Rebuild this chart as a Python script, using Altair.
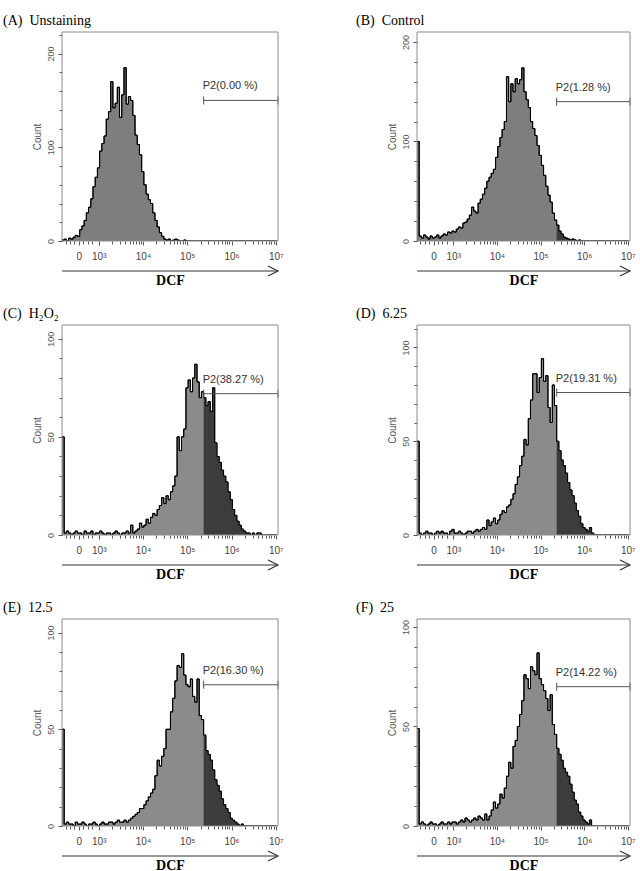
import math
import altair as alt
import pandas as pd

# Display axis is in "decades": 10^k sits at k, the zero channel sits at 2.55
U0 = 2.17          # left edge of the display
U1 = 7.05          # right edge of the display
BIN = 0.05         # bin width in decades
GATE_U = 5.37      # left edge of the P2 gate

panel_titles = ["(A)\u00a0 Unstaining", "(B)\u00a0 Control", "(C)\u00a0 H\u2082O\u2082",
                "(D)\u00a0 6.25", "(E)\u00a0 12.5", "(F)\u00a0 25"]
gate_labels = ["P2(0.00 %)", "P2(1.28 %)", "P2(38.27 %)",
               "P2(19.31 %)", "P2(16.30 %)", "P2(14.22 %)"]
gate_levels = [150, 140, 72, 76, 73, 70]
y_max = [223, 210, 107, 112, 107, 104]
y_label_step = [100, 100, 50, 50, 50, 50]
y_tick_step = [20, 20, 10, 10, 10, 10]

x_major_pos = [2.55, 3, 4, 5, 6, 7]
x_major_text = ["0", "10\u00b3", "10\u2074", "10\u2075", "10\u2076", "10\u2077"]

# Event counts per bin (bin k starts at U0 + k*BIN)
counts_a = [
    1, 2, 0, 3, 2, 4, 6, 5, 12, 16,
    22, 30, 36, 45, 58, 68, 78, 96, 104, 112,
    130, 138, 170, 142, 147, 164, 132, 156, 185, 146,
    154, 150, 134, 113, 103, 92, 74, 60, 50, 44,
    40, 30, 22, 15, 9, 5, 2, 1, 2, 0,
    1, 2, 1, 0, 0, 1, 0, 0, 0, 0,
    0, 0, 0, 0, 0, 0, 0, 0, 0, 0,
    0, 0, 0, 0, 0, 0, 0, 0, 0, 0,
    0, 0, 0, 0, 0, 0, 0, 0, 0, 0,
    0, 0, 0, 0, 0, 0, 0, 0]
counts_b = [
    100, 5, 3, 6, 4, 2, 5, 3, 4, 6,
    3, 5, 7, 6, 9, 8, 10, 9, 12, 14,
    13, 18, 19, 22, 26, 34, 30, 28, 38, 42,
    47, 53, 60, 64, 68, 72, 84, 95, 104, 112,
    120, 165, 140, 158, 150, 163, 158, 162, 174, 150,
    142, 134, 120, 113, 106, 96, 86, 76, 66, 55,
    46, 39, 28, 21, 16, 10, 7, 4, 3, 2,
    1, 2, 1, 0, 1, 0, 0, 0, 0, 0,
    0, 0, 0, 0, 0, 0, 0, 0, 0, 0,
    0, 0, 0, 0, 0, 0, 0, 0]
counts_c = [
    50, 1, 2, 1, 0, 1, 2, 1, 1, 0,
    2, 1, 1, 2, 0, 1, 1, 2, 1, 0,
    1, 1, 0, 1, 2, 1, 0, 1, 1, 2,
    1, 5, 1, 2, 3, 6, 4, 5, 8, 6,
    9, 11, 10, 13, 15, 19, 16, 20, 18, 22,
    25, 30, 50, 43, 50, 54, 75, 79, 73, 80,
    87, 78, 70, 73, 70, 66, 68, 63, 75, 47,
    40, 37, 33, 30, 27, 22, 18, 13, 10, 7,
    5, 3, 2, 1, 1, 0, 1, 0, 1, 1,
    0, 0, 0, 0, 0, 0, 0, 0]
counts_d = [
    50, 1, 0, 1, 2, 1, 1, 0, 1, 2,
    1, 2, 1, 1, 0, 2, 3, 1, 1, 2,
    1, 0, 1, 2, 2, 1, 2, 3, 2, 3,
    4, 3, 8, 5, 7, 9, 6, 8, 11, 13,
    12, 15, 16, 19, 22, 27, 31, 37, 42, 51,
    48, 62, 72, 86, 86, 76, 84, 94, 82, 85,
    68, 60, 80, 69, 50, 45, 40, 37, 33, 28,
    24, 21, 17, 13, 10, 6, 4, 3, 2, 4,
    1, 0, 0, 0, 0, 0, 0, 0, 0, 0,
    0, 0, 0, 0, 0, 0, 0, 0]
counts_e = [
    50, 1, 2, 1, 1, 0, 2, 1, 1, 2,
    1, 0, 1, 1, 2, 1, 0, 1, 2, 1,
    1, 2, 2, 1, 2, 3, 2, 2, 3, 2,
    3, 4, 5, 6, 7, 9, 9, 11, 13, 15,
    17, 19, 26, 34, 31, 36, 40, 50, 50, 59,
    66, 75, 83, 82, 89, 78, 73, 72, 76, 67,
    64, 76, 57, 55, 47, 39, 37, 34, 29, 24,
    21, 18, 14, 11, 9, 7, 4, 3, 2, 1,
    0, 1, 0, 0, 0, 0, 0, 0, 0, 0,
    0, 0, 0, 0, 0, 0, 0, 0]
counts_f = [
    49, 1, 2, 1, 0, 1, 2, 1, 1, 0,
    1, 2, 1, 1, 2, 1, 2, 2, 1, 2,
    3, 2, 4, 3, 2, 3, 4, 3, 5, 4,
    3, 6, 3, 5, 8, 12, 9, 11, 16, 14,
    19, 25, 32, 29, 40, 43, 50, 56, 63, 76,
    74, 69, 80, 78, 76, 87, 74, 71, 68, 64,
    58, 66, 51, 46, 39, 36, 33, 29, 27, 25,
    21, 17, 13, 11, 7, 5, 3, 2, 1, 3,
    0, 0, 0, 0, 0, 0, 0, 0, 0, 0,
    0, 0, 0, 0, 0, 0, 0, 0]

all_counts = [counts_a, counts_b, counts_c, counts_d, counts_e, counts_f]
panel_width = [216, 213, 216, 213, 216, 213]
panel_height = [209, 209, 210, 210, 207, 207]
title_dx = [-59, -61, -59, -61, -59, -61]
fill_light = ["#7e7e7e", "#7e7e7e", "#8b8b8b", "#8b8b8b", "#8b8b8b", "#8b8b8b"]
fill_dark = "#3c3c3c"
FRAME = "#8a8a8a"

# Minor ticks: linear zone around zero plus log minor ticks per decade
x_minor_pos = [2.25, 2.35, 2.45, 2.65, 2.75, 2.85] + [
    d + math.log10(m) for d in (3, 4, 5, 6) for m in range(2, 10)]
x_label_expr = "".join(
    f"datum.value == {p} ? '{t}' : " for p, t in zip(x_major_pos, x_major_text)) + "''"

SANS = "Liberation Sans"
SERIF = "Liberation Serif"
TICK = "#555555"


def panel(i):
    counts = all_counts[i]
    w, h = panel_width[i], panel_height[i]
    df = pd.DataFrame({"u": [U0 + BIN * k for k in range(len(counts))],
                       "count": counts})
    x_scale = alt.Scale(domain=[U0, U1], nice=False, zero=False)
    y_scale = alt.Scale(domain=[0, y_max[i]], nice=False, zero=True)

    # labelled (major) axes
    x_major = alt.X(
        "u:Q", scale=x_scale,
        axis=alt.Axis(
            orient="bottom", values=x_major_pos, labelExpr=x_label_expr, title="DCF",
            domain=False, grid=False, tickSize=4, tickColor=TICK,
            labelFont=SANS, labelFontSize=10, labelColor="#444444",
            labelPadding=6, labelOverlap=False, labelFlush=False,
            titleFont=SERIF, titleFontSize=14, titleFontWeight="bold",
            titleColor="black", titlePadding=12,
        ),
    )
    y_major = alt.Y(
        "count:Q", scale=y_scale,
        axis=alt.Axis(
            orient="left", values=list(range(0, y_max[i] + 1, y_label_step[i])),
            title="Count", domain=False, grid=False, tickSize=4, tickColor=TICK,
            labelAngle=270, labelAlign="center", labelBaseline="bottom",
            labelFont=SANS, labelFontSize=9, labelColor="#555555", labelPadding=3,
            labelOverlap=False, labelFlush=False,
            titleFont=SANS, titleFontSize=10, titleFontWeight="normal",
            titleColor="#555555", titlePadding=4,
        ),
    )
    # unlabelled (minor) tick axes
    x_minor = alt.X(
        "u:Q", scale=x_scale,
        axis=alt.Axis(orient="bottom", values=x_minor_pos, labels=False, title=None,
                      domain=False, grid=False, tickSize=3, tickColor=TICK),
    )
    y_minor = alt.Y(
        "count:Q", scale=y_scale,
        axis=alt.Axis(orient="left", values=list(range(0, y_max[i] + 1, y_tick_step[i])),
                      labels=False, title=None, domain=False, grid=False,
                      tickSize=3, tickColor=TICK),
    )

    base = alt.Chart(df)
    fill = base.mark_area(interpolate="step-after", color=fill_light[i],
                          opacity=1, clip=True).encode(x=x_major, y=y_major)
    outline = base.mark_line(interpolate="step-after", color="black",
                             strokeWidth=1, clip=True).encode(x=x_minor, y=y_minor)
    gated = base.transform_filter(alt.datum.u >= GATE_U - 1e-6).mark_area(
        interpolate="step-after", color=fill_dark, opacity=1, clip=True
    ).encode(x=alt.X("u:Q", axis=None), y=alt.Y("count:Q", axis=None))
    outline_top = base.mark_line(interpolate="step-after", color="black",
                                 strokeWidth=1, clip=True).encode(
        x=alt.X("u:Q", axis=None), y=alt.Y("count:Q", axis=None))

    gate_df = pd.DataFrame({"u0": [GATE_U], "u1": [U1],
                            "lvl": [gate_levels[i]], "lab": [gate_labels[i]]})
    gate = alt.Chart(gate_df)
    gate_bar = gate.mark_rule(color="#555555", strokeWidth=1).encode(
        x=alt.X("u0:Q", axis=None), x2="u1:Q", y=alt.Y("lvl:Q", axis=None))
    gate_caps = gate.transform_fold(["u0", "u1"], as_=["end", "pos"]).mark_tick(
        orient="vertical", size=8, thickness=1, color="#555555", opacity=1
    ).encode(x=alt.X("pos:Q", axis=None), y=alt.Y("lvl:Q", axis=None))
    gate_text = gate.mark_text(
        align="left", baseline="alphabetic", dx=-1, dy=-11,
        font=SANS, fontSize=11, color="#333333",
    ).encode(x=alt.X("u0:Q", axis=None), y=alt.Y("lvl:Q", axis=None), text="lab:N")

    # Plot frame and the axis arrow under the tick labels
    one = alt.Data(values=[{}])
    frame = alt.Chart(one).mark_rect(
        fill=None, stroke=FRAME, strokeWidth=1, filled=False
    ).encode(x=alt.value(0), x2=alt.value(w), y=alt.value(0), y2=alt.value(h))
    arrow_line = alt.Chart(one).mark_rule(color="#333333", strokeWidth=1).encode(
        x=alt.value(0), x2=alt.value(w), y=alt.value(h + 30))
    arrow_head = alt.Chart(one).mark_point(
        shape="M-1,-0.5L0,0L-1,0.5", size=400, filled=False,
        color="#333333", strokeWidth=1.2, opacity=1,
    ).encode(x=alt.value(w), y=alt.value(h + 30))

    return alt.layer(
        fill, outline, gated, outline_top, gate_bar, gate_caps, gate_text,
        frame, arrow_line, arrow_head,
    ).resolve_axis(x="independent", y="independent").properties(
        width=w, height=h,
        title=alt.TitleParams(
            text=panel_titles[i], anchor="start", frame="group", orient="top",
            dx=title_dx[i], offset=-10, baseline="bottom",
            font=SERIF, fontSize=14, fontWeight="normal", color="black",
        ),
    )


chart = alt.concat(
    *[panel(i) for i in range(6)],
    columns=2,
    spacing={"row": 84, "column": 139},
    bounds="flush",
).properties(
    padding={"left": 3, "top": 13, "right": 4, "bottom": 2},
    background="white",
).configure_view(
    stroke=None,
)

chart.save("out.html", embed_options={"renderer": "svg", "actions": False})
